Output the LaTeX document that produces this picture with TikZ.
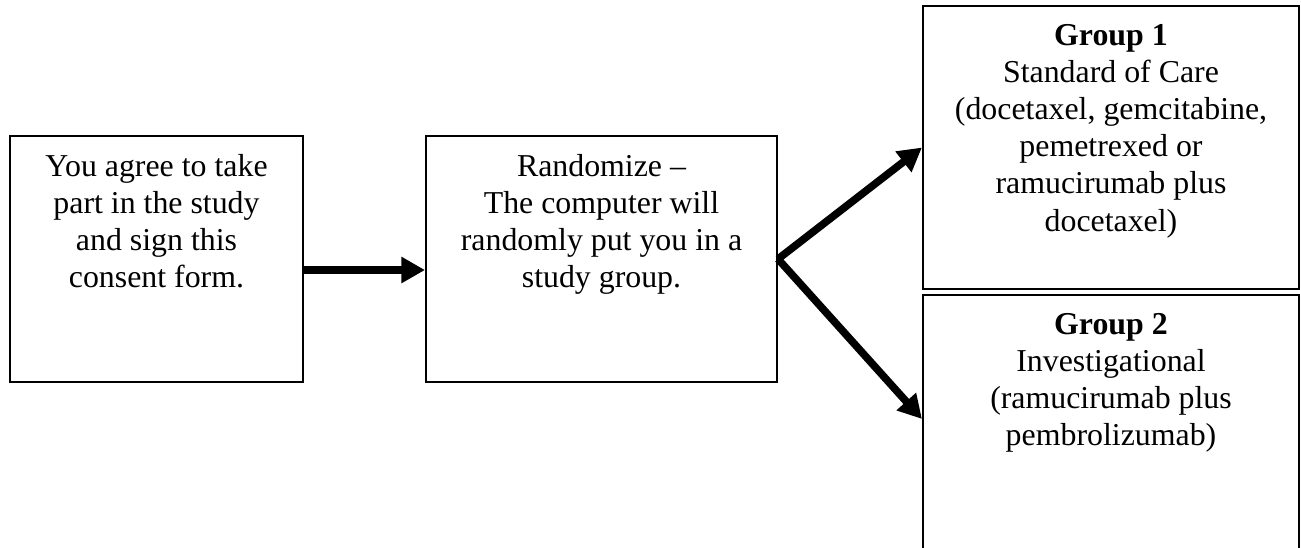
\documentclass[tikz,border=0pt]{standalone}
\usepackage{fontspec}
\setmainfont{Liberation Serif}
\usetikzlibrary{positioning,arrows.meta,calc}
\tikzset{%
  arrow/.style = { -{Triangle[length = 9pt, width = 9.5pt]}, line width = 2.9pt, draw = black },
  tbox/.style  = { draw = black, line width = 0.8pt, inner sep = 0pt },
  ttext/.style = { anchor = north, inner sep = 0pt, align = center, yshift = -7.3pt,
                   font = \fontsize{12.2}{14.2}\selectfont }
}

\begin{document}
\begin{tikzpicture}[x = 0.383pt, y = -0.383pt]
\useasboundingbox (0,0) rectangle (1301,547);
\clip (0,0) rectangle (1301,547);

% boxes
\node(consent) [tbox, minimum width = 112.2pt, minimum height = 94.2pt]  at (156.5,259) {};
\node(random)  [tbox, minimum width = 134.4pt, minimum height = 94.2pt]  at (601.5,259) {};
\node(groupA)  [tbox, minimum width = 144pt,   minimum height = 108.4pt] at (1111,147.5) {};
\node(groupB)  [tbox, minimum width = 144pt,   minimum height = 103.4pt] at (1111,430) {};

% texts
\node(consentText) [ttext] at (consent.north) {You agree to take\\ part in the study\\ and sign this\\ consent form.};
\node(randomText)  [ttext] at (random.north)  {Randomize --\\ The computer will\\ randomly put you in a\\ study group.};
\node(groupAText)  [ttext] at (groupA.north)  {\textbf{Group 1}\\ Standard of Care\\ (docetaxel, gemcitabine,\\ pemetrexed or\\ ramucirumab plus\\ docetaxel)};
\node(groupBText)  [ttext] at (groupB.north)  {\textbf{Group 2}\\ Investigational\\ (ramucirumab plus\\ pembrolizumab)};

% arrows
\draw[arrow] ($(consent.east)+(0,11)$) -- ($(random.west)+(0,11)$);
\draw[arrow] (random.east) -- (groupA.west);
\draw[arrow] (random.east) -- ($(groupB.north west)+(0,125)$);
\end{tikzpicture}
\end{document}
